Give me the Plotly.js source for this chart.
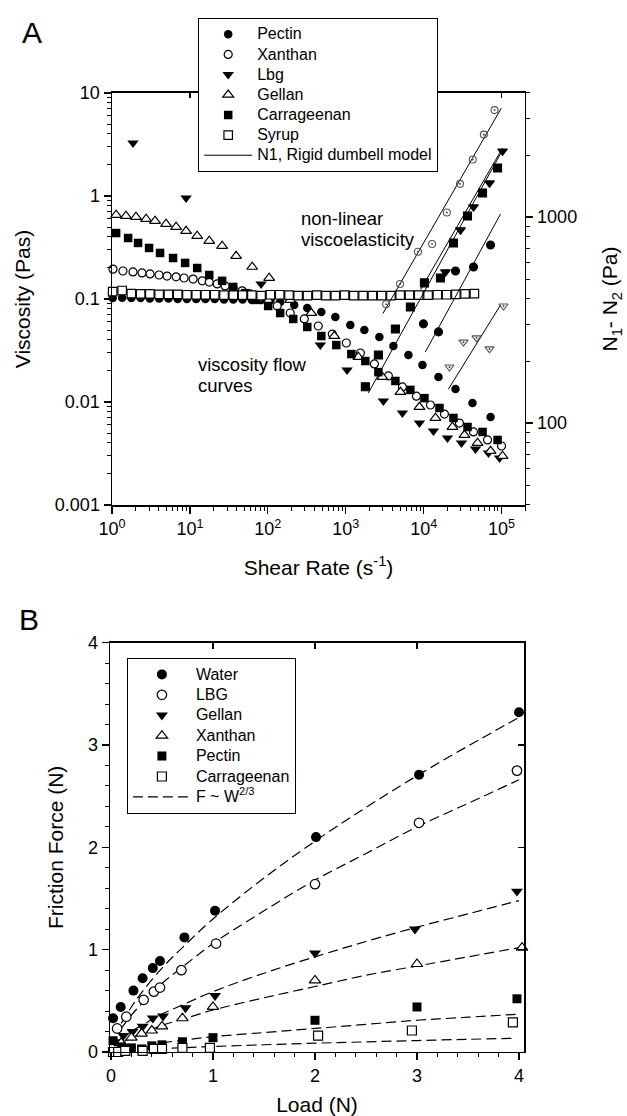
<!DOCTYPE html>
<html><head><meta charset="utf-8">
<script src="https://cdn.plot.ly/plotly-3.0.1.min.js"></script>
<style>html,body{margin:0;padding:0;background:#fff}#chart{width:627px;height:1116px}</style>
</head><body><div id="chart"></div>
<script>
// ---------- Panel A : viscosity flow curves (left axis) ----------
const syrupRate = [1.02,1.35,1.77,2.33,3.06,4.03,5.30,6.97,9.16,12.05,15.8,20.8,27.4,36.1,47.4,62.4,82.0,108,142,187,245,323,425,558,735,966,1270,1670,2200,2890,3800,5000,6580,8650,11400,15000,19700,25900,34000,44800];
const syrupVisc = [0.118,0.121,0.113,0.112,0.112,0.111,0.111,0.111,0.110,0.110,0.110,0.110,0.109,0.109,0.109,0.109,0.108,0.110,0.110,0.109,0.108,0.108,0.109,0.108,0.108,0.109,0.108,0.108,0.108,0.108,0.108,0.109,0.109,0.109,0.109,0.110,0.110,0.111,0.112,0.113];
const pectinRate = [1.02,1.35,1.77,2.33,3.06,4.03,5.30,6.97,9.16,12.05,15.8,20.8,27.4,36.1,47.4,62.4,82.0,108,144,218,321,486,735,1146,1734,2702,4090,6380,9660,15500,25650,42400,72300];
const pectinVisc = [0.102,0.103,0.102,0.102,0.101,0.101,0.101,0.100,0.100,0.100,0.100,0.100,0.099,0.099,0.099,0.098,0.098,0.097,0.0935,0.0875,0.0818,0.0748,0.0668,0.056,0.050,0.0428,0.035,0.0286,0.0229,0.0175,0.0134,0.0098,0.00714];
const xanthanRate = [1.03,1.38,1.86,2.43,3.08,4.02,5.09,6.65,8.42,11.0,14.4,17.7,22.4,28.3,35.9,46.9,59.4,77.5,101,132,194,294,444,673,1018,1541,2333,3530,5340,8080,12230,18500,28800,43600,66100,100000];
const xanthanVisc = [0.195,0.187,0.183,0.179,0.175,0.171,0.167,0.164,0.160,0.156,0.150,0.146,0.140,0.134,0.128,0.120,0.112,0.102,0.0935,0.0855,0.0731,0.064,0.0547,0.0457,0.0374,0.0299,0.0234,0.0179,0.014,0.0114,0.00935,0.00764,0.00625,0.00512,0.00428,0.00374];
const lbgRate = [1.86,8.93,82,472,1040,3043,5340,8830,13360,20230,30600,46300,68000,94300];
const lbgVisc = [3.27,0.956,0.14,0.0357,0.0205,0.0102,0.00781,0.00625,0.00523,0.00447,0.0040,0.0035,0.0032,0.00286];
const gellanRate = [1.13,1.51,2.03,2.74,3.57,4.94,6.65,8.93,12.4,17.7,25.9,39.2,63,104,194,361,713,1452,2951,5033,8830,14190,23440,33440,49200,72300,103000];
const gellanVisc = [0.655,0.640,0.626,0.598,0.572,0.535,0.500,0.457,0.409,0.366,0.327,0.261,0.205,0.160,0.0977,0.0731,0.0437,0.0274,0.0175,0.0125,0.00894,0.0070,0.00572,0.00478,0.0040,0.00334,0.00299];
const carrRate = [1.13,1.61,2.16,2.99,4.14,6.08,8.68,12.4,17.7,25.9,35.9,51.3,71,101,144,212,321,486,757,1180,1786,2625,4340,6760,10240,15960,24150,36560,57000,88900];
const carrVisc = [0.437,0.391,0.350,0.313,0.280,0.250,0.224,0.200,0.171,0.150,0.131,0.114,0.098,0.0855,0.0731,0.064,0.0535,0.0437,0.0357,0.0292,0.025,0.0195,0.016,0.0131,0.0109,0.00875,0.0070,0.00572,0.00512,0.00428];

// ---------- Panel A : normal stress difference N1-N2 (right axis) ----------
const xanN1Rate = [3300,4980,8450,12850,19860,29300,42660,59260,81300];
const xanN1 = [377,473,678,740,1052,1449,1901,2512,3304];
const carrN1Rate = [1786,2625,4340,6760,10240,16440,24150,36560,57000,88900];
const carrN1 = [150,214,286,366,479,506,748,1012,1309,1730];
const lbgN1Rate = [19050,29700,43650,70100,103000];
const lbgN1 = [541,865,1119,1462,2090];
const gelN1Rate = [21460,32500,47700,70100,106000];
const gelN1 = [187,247,259,229,370];
const pecN1Rate = [9940,15500,25650,43650,72300];
const pecN1 = [303,277,547,572,731];
// rigid dumbbell model lines (end points)
const modelXanRate = [3000,99000],  modelXan = [340,3370];
const modelCarrRate = [1950,103000], modelCarr = [140,2113];
const modelLbgRate = [9100,103000], modelLbg = [443,2163];
const modelPecRate = [10500,97000], modelPec = [221,1035];
const modelGelRate = [20800,97000], modelGel = [146,374];

const rateTicks = [1,10,100,1000,10000,100000];
const rateTickText = ['10<sup>0</sup>','10<sup>1</sup>','10<sup>2</sup>','10<sup>3</sup>','10<sup>4</sup>','10<sup>5</sup>'];
const viscTicks = [0.001,0.01,0.1,1,10];
const viscTickText = ['0.001','0.01','0.1','1','10'];
const nTicks = [100,1000];
const nTickText = ['100','1000'];

// ---------- Panel B : friction ----------
const waterLoad = [0.02,0.095,0.22,0.31,0.41,0.48,0.72,1.02,2.01,3.02,4.0];
const waterF = [0.33,0.44,0.60,0.72,0.82,0.89,1.12,1.38,2.10,2.71,3.32];
const lbgLoad = [0.06,0.15,0.32,0.42,0.48,0.69,1.03,2.0,3.02,3.98];
const lbgF = [0.23,0.345,0.51,0.59,0.63,0.80,1.06,1.64,2.24,2.75];
const gellanLoad = [0.04,0.12,0.21,0.31,0.41,0.51,0.73,1.02,2.0,2.98,3.98];
const gellanF = [0.10,0.16,0.20,0.25,0.33,0.35,0.43,0.55,0.965,1.20,1.57];
const xanthanLoad = [0.1,0.2,0.3,0.4,0.5,0.7,1.0,2.0,3.0,4.03];
const xanthanF = [0.09,0.14,0.18,0.21,0.25,0.33,0.44,0.70,0.86,1.02];
const pectinLoad = [0.02,0.1,0.2,0.3,0.4,0.5,0.7,1.0,2.0,3.0,3.98];
const pectinF = [0.11,0.05,0.04,0.03,0.06,0.07,0.10,0.14,0.31,0.44,0.52];
const carrLoad = [0.02,0.07,0.14,0.31,0.42,0.5,0.7,0.97,2.03,2.95,3.94];
const carrF = [0.0,0.0,0.01,0.01,0.03,0.03,0.04,0.04,0.16,0.21,0.29];
// F ~ W^(2/3) dashed curves
const fitLoad = [0.1,0.2,0.3,0.5,0.7,1,1.5,2,2.5,3,3.5,4];
const waterFit = [0.28,0.44,0.58,0.82,1.02,1.30,1.70,2.06,2.39,2.70,2.99,3.27];
const lbgFit = [0.23,0.36,0.47,0.67,0.83,1.06,1.38,1.68,1.94,2.20,2.43,2.66];
const gellanFit = [0.13,0.20,0.26,0.37,0.46,0.59,0.77,0.93,1.08,1.22,1.35,1.48];
const xanthanFit = [0.09,0.14,0.18,0.26,0.32,0.41,0.53,0.64,0.75,0.84,0.93,1.02];
const pectinFitLoad = [0.5,0.7,1,1.5,2,2.5,3,3.5,4];
const pectinFit = [0.09,0.115,0.15,0.19,0.23,0.27,0.31,0.34,0.37];
const carrFitLoad = [0.3,0.5,0.7,1,1.5,2,2.5,3,3.5,3.94];
const carrFit = [0.024,0.034,0.042,0.054,0.071,0.086,0.099,0.112,0.124,0.134];

const FONT = 'Arial, "Liberation Sans", sans-serif';
const BLACK = '#000';
const big = t => '<span style="font-size:16px">' + t + '</span>';

function pts(name, x, y, symbol, open, size, ax, legend, show) {
  return {type:'scatter', mode:'markers', name:big(name), x:x, y:y,
    xaxis:ax[0], yaxis:ax[1], legend:legend, showlegend:show, cliponaxis:false,
    marker:{symbol:symbol, size:size, color: open ? '#fff' : BLACK,
      line:{color:BLACK, width: open ? 1.2 : 0}}};
}
function n1pts(x, y, symbol, size, color) {
  return {type:'scatter', mode:'markers', x:x, y:y, xaxis:'x', yaxis:'y2', showlegend:false, cliponaxis:false,
    marker:{symbol:symbol, size:size, color:color, line:{color:color, width:1.1}}};
}
function model(x, y, show) {
  return {type:'scatter', mode:'lines', name:big('N1, Rigid dumbell model'), x:x, y:y, xaxis:'x', yaxis:'y2',
    legend:'legend', showlegend:show, legendgroup:'model', line:{color:BLACK, width:1}};
}
function fit(x, y, show) {
  return {type:'scatter', mode:'lines', name:big('F ~ W<sup>2/3</sup>'), x:x, y:y, xaxis:'x3', yaxis:'y3',
    legend:'legend2', showlegend:show, legendgroup:'fit', legendrank:2000,
    line:{color:BLACK, width:1.2, dash:'10px,5px', shape:'spline'}};
}

const A = ['x','y'], B = ['x3','y3'];
const traces = [
  {type:'scatter', mode:'lines', x:syrupRate, y:syrupVisc, xaxis:'x', yaxis:'y', showlegend:false, line:{color:BLACK, width:0.8}},
  pts('Pectin', pectinRate, pectinVisc, 'circle', false, 8.5, A, 'legend', true),
  pts('Xanthan', xanthanRate, xanthanVisc, 'circle', true, 8, A, 'legend', true),
  pts('Lbg', lbgRate, lbgVisc, 'triangle-down', false, 10, A, 'legend', true),
  pts('Gellan', gellanRate, gellanVisc, 'triangle-up', true, 9.5, A, 'legend', true),
  pts('Carrageenan', carrRate, carrVisc, 'square', false, 8.5, A, 'legend', true),
  pts('Syrup', syrupRate, syrupVisc, 'square', true, 8.5, A, 'legend', true),
  model(modelXanRate, modelXan, true),
  model(modelCarrRate, modelCarr, false),
  model(modelLbgRate, modelLbg, false),
  model(modelPecRate, modelPec, false),
  model(modelGelRate, modelGel, false),
  n1pts(xanN1Rate, xanN1, 'circle-open-dot', 7, '#555'),
  n1pts(carrN1Rate, carrN1, 'square', 8, BLACK),
  n1pts(lbgN1Rate, lbgN1, 'triangle-down', 8.5, BLACK),
  n1pts(gelN1Rate, gelN1, 'triangle-down-open-dot', 8, '#555'),
  n1pts(pecN1Rate, pecN1, 'circle', 8, BLACK),
  {type:'scatter', mode:'markers', x:[], y:[], xaxis:'x2', yaxis:'y', showlegend:false},
  // Panel B
  fit(fitLoad, waterFit, true),
  fit(fitLoad, lbgFit, false),
  fit(fitLoad, gellanFit, false),
  fit(fitLoad, xanthanFit, false),
  fit(pectinFitLoad, pectinFit, false),
  fit(carrFitLoad, carrFit, false),
  pts('Water', waterLoad, waterF, 'circle', false, 10, B, 'legend2', true),
  pts('LBG', lbgLoad, lbgF, 'circle', true, 9.5, B, 'legend2', true),
  pts('Gellan', gellanLoad, gellanF, 'triangle-down', false, 10.5, B, 'legend2', true),
  pts('Xanthan', xanthanLoad, xanthanF, 'triangle-up', true, 10, B, 'legend2', true),
  pts('Pectin', pectinLoad, pectinF, 'square', false, 9, B, 'legend2', true),
  pts('Carrageenan', carrLoad, carrF, 'square', true, 9, B, 'legend2', true),
  {type:'scatter', mode:'markers', x:[], y:[], xaxis:'x4', yaxis:'y4', showlegend:false}
];

const base = {showgrid:false, zeroline:false, showline:true, linecolor:BLACK, linewidth:1.5,
  ticks:'outside', tickcolor:BLACK, tickwidth:1.3, ticklen:7, automargin:false,
  tickfont:{size:18, color:BLACK, family:FONT}};
const titleFont = {size:21, color:BLACK, family:FONT};

const layout = {
  width:627, height:1116, margin:{l:0, r:0, t:0, b:0}, autosize:false,
  paper_bgcolor:'#fff', plot_bgcolor:'rgba(0,0,0,0)',
  font:{family:FONT, color:BLACK},
  xaxis: Object.assign({}, base, {type:'log', domain:[0.17863,0.83732], range:[0,5.30103], anchor:'y',
    tickvals:rateTicks, ticktext:rateTickText,
    minor:{ticks:'outside', ticklen:4, tickwidth:1, tickcolor:BLACK, dtick:'D1', showgrid:false},
    title:{text:'Shear Rate (s<sup>-1</sup>)', font:titleFont, standoff:22}}),
  xaxis2: Object.assign({}, base, {type:'log', overlaying:'x', side:'top', anchor:'y', range:[0,5.30103],
    tickvals:rateTicks, ticks:'inside', ticklen:5, showticklabels:false}),
  yaxis: Object.assign({}, base, {type:'log', domain:[0.54749,0.91667], range:[-3,1], anchor:'x',
    tickvals:viscTicks, ticktext:viscTickText,
    minor:{ticks:'outside', ticklen:4, tickwidth:1, tickcolor:BLACK, dtick:'D1', showgrid:false},
    title:{text:'Viscosity (Pas)', font:titleFont, standoff:18}}),
  yaxis2: Object.assign({}, base, {type:'log', overlaying:'y', side:'right', anchor:'x', range:[1.60206,3.60206],
    tickvals:nTicks, ticktext:nTickText,
    minor:{ticks:'outside', ticklen:4, tickwidth:1, tickcolor:BLACK, dtick:'D1', showgrid:false},
    title:{text:'N<sub>1</sub>- N<sub>2</sub> (Pa)', font:titleFont, standoff:26}}),
  xaxis3: Object.assign({}, base, {domain:[0.17544,0.83573], range:[-0.0098,4.049], anchor:'y3',
    tickvals:[0,1,2,3,4], minor:{ticks:'outside', ticklen:4, tickwidth:1, tickcolor:BLACK, dtick:0.2, tick0:0, showgrid:false},
    title:{text:'Load (N)', font:titleFont, standoff:12}}),
  xaxis4: Object.assign({}, base, {overlaying:'x3', side:'top', anchor:'y3', range:[-0.0098,4.049],
    tickvals:[1,2,3], ticks:'inside', ticklen:6, showticklabels:false}),
  yaxis3: Object.assign({}, base, {domain:[0.05735,0.42410], range:[0,4], anchor:'x3',
    tickvals:[0,1,2,3,4], minor:{ticks:'outside', ticklen:4, tickwidth:1, tickcolor:BLACK, dtick:0.2, tick0:0, showgrid:false},
    title:{text:'Friction Force (N)', font:titleFont, standoff:18}}),
  yaxis4: Object.assign({}, base, {overlaying:'y3', side:'right', anchor:'x3', range:[0,4],
    tickvals:[1,2,3], ticks:'inside', ticklen:6, showticklabels:false}),
  legend: {x:198/627, y:1-18/1116, xanchor:'left', yanchor:'top', bgcolor:'#fff', bordercolor:BLACK, borderwidth:1.2,
    font:{size:13.2, color:BLACK, family:FONT}, tracegroupgap:0, itemwidth:48},
  legend2: {x:126.7/627, y:1-658/1116, xanchor:'left', yanchor:'top', bgcolor:'#fff', bordercolor:BLACK, borderwidth:1.2,
    font:{size:13.4, color:BLACK, family:FONT}, tracegroupgap:0, itemwidth:58},
  annotations: [
    {text:'A', xref:'paper', yref:'paper', x:20/627, y:1-33/1116, xanchor:'left', yanchor:'middle', showarrow:false, font:{size:30, color:BLACK}},
    {text:'B', xref:'paper', yref:'paper', x:17/627, y:1-619/1116, xanchor:'left', yanchor:'middle', showarrow:false, font:{size:30, color:BLACK}},
    {text:'non-linear', xref:'paper', yref:'paper', x:299/627, y:1-218/1116, xanchor:'left', yanchor:'middle', showarrow:false, font:{size:18.5, color:BLACK}},
    {text:'viscoelasticity', xref:'paper', yref:'paper', x:299/627, y:1-239/1116, xanchor:'left', yanchor:'middle', showarrow:false, font:{size:18.5, color:BLACK}},
    {text:'viscosity flow', xref:'paper', yref:'paper', x:196/627, y:1-364/1116, xanchor:'left', yanchor:'middle', showarrow:false, font:{size:18.5, color:BLACK}},
    {text:'curves', xref:'paper', yref:'paper', x:196/627, y:1-385/1116, xanchor:'left', yanchor:'middle', showarrow:false, font:{size:18.5, color:BLACK}}
  ]
};

Plotly.newPlot('chart', traces, layout, {staticPlot:true, displayModeBar:false});
</script></body></html>
